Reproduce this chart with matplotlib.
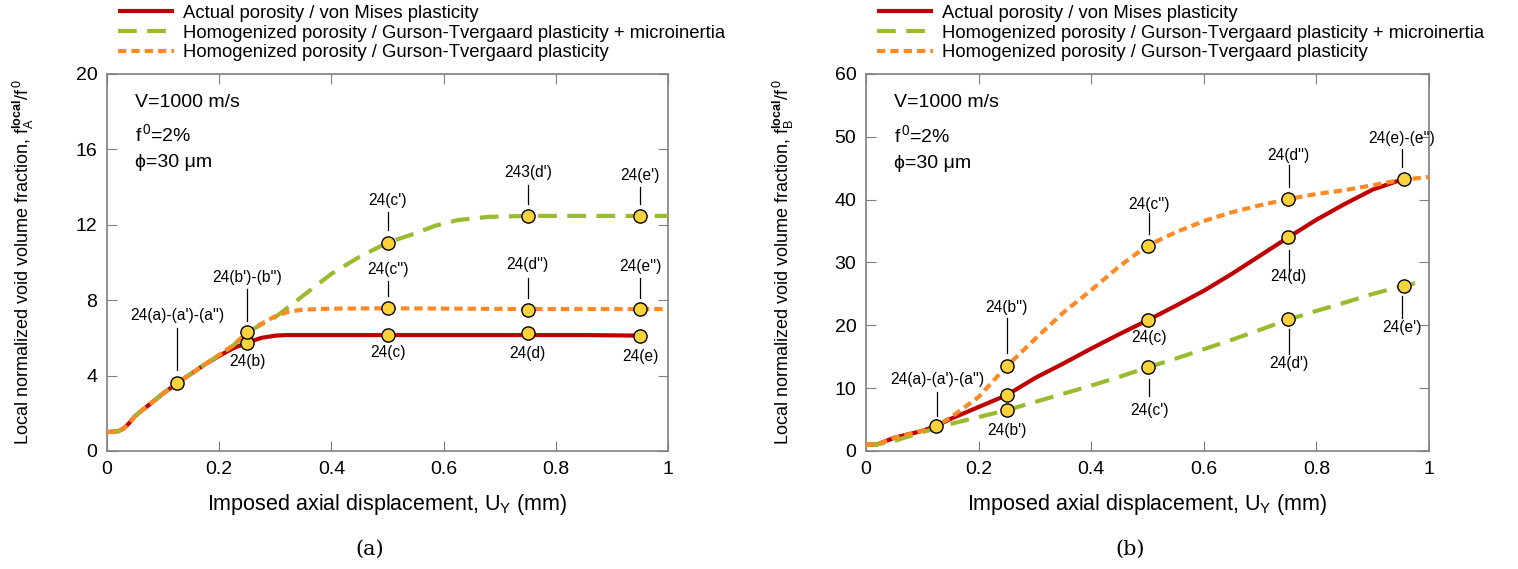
import matplotlib.pyplot as plt

# --- data ------------------------------------------------------------------
# panel (a): point A
xa_red = [0.0, 0.02, 0.03, 0.04, 0.05, 0.06, 0.075, 0.10, 0.125, 0.15, 0.175, 0.20, 0.225, 0.25,
          0.275, 0.30, 0.32, 0.40, 0.50, 0.60, 0.75, 0.85, 0.95]
ya_red = [1.0, 1.05, 1.2, 1.5, 1.85, 2.1, 2.45, 3.05, 3.6, 4.1, 4.6, 5.05, 5.45, 5.75,
          6.0, 6.12, 6.15, 6.15, 6.15, 6.15, 6.15, 6.15, 6.12]

xa_green = [0.0, 0.02, 0.03, 0.04, 0.05, 0.06, 0.075, 0.10, 0.125, 0.15, 0.175, 0.20, 0.225, 0.25,
            0.275, 0.30, 0.35, 0.40, 0.45, 0.50, 0.545, 0.585, 0.625, 0.68, 0.75, 0.85, 0.95, 1.0]
ya_green = [1.0, 1.05, 1.2, 1.5, 1.85, 2.1, 2.45, 3.05, 3.6, 4.1, 4.6, 5.1, 5.6, 6.3,
            6.7, 7.1, 8.25, 9.4, 10.3, 11.05, 11.5, 11.95, 12.25, 12.42, 12.47, 12.47, 12.47, 12.47]

xa_orange = [0.0, 0.02, 0.03, 0.04, 0.05, 0.06, 0.075, 0.10, 0.125, 0.15, 0.175, 0.20, 0.225, 0.25,
             0.275, 0.30, 0.325, 0.35, 0.40, 0.50, 0.75, 0.95, 1.0]
ya_orange = [1.0, 1.05, 1.2, 1.5, 1.85, 2.1, 2.45, 3.05, 3.6, 4.1, 4.6, 5.1, 5.6, 6.3,
             6.75, 7.15, 7.4, 7.5, 7.55, 7.57, 7.53, 7.53, 7.53]

# markers (a)
xa_pts = [0.125, 0.25, 0.25, 0.50, 0.50, 0.50, 0.75, 0.75, 0.75, 0.95, 0.95, 0.95]
ya_pts = [3.6, 5.75, 6.3, 6.15, 7.6, 11.05, 6.25, 7.5, 12.47, 6.1, 7.53, 12.47]

# panel (b): point B
xb_red = [0.0, 0.02, 0.05, 0.10, 0.125, 0.15, 0.20, 0.25, 0.30, 0.35, 0.40, 0.45,
          0.50, 0.55, 0.60, 0.65, 0.70, 0.75, 0.80, 0.85, 0.90, 0.955]
yb_red = [1.0, 1.05, 2.1, 3.2, 4.0, 5.1, 7.0, 8.9, 11.6, 13.9, 16.3, 18.6,
          20.8, 23.1, 25.5, 28.2, 31.1, 34.0, 36.8, 39.3, 41.6, 43.3]

xb_green = [0.0, 0.02, 0.05, 0.10, 0.125, 0.15, 0.20, 0.25, 0.30, 0.35, 0.40, 0.45,
            0.50, 0.55, 0.60, 0.65, 0.70, 0.75, 0.80, 0.85, 0.90, 0.955, 0.98]
yb_green = [1.0, 1.05, 1.6, 3.0, 3.6, 4.3, 5.4, 6.5, 7.8, 9.1, 10.4, 11.8,
            13.3, 14.7, 16.2, 17.7, 19.3, 20.9, 22.3, 23.6, 25.0, 26.3, 26.8]

xb_orange = [0.0, 0.02, 0.05, 0.10, 0.125, 0.15, 0.20, 0.25, 0.30, 0.35, 0.40, 0.45,
             0.50, 0.55, 0.60, 0.65, 0.70, 0.75, 0.80, 0.85, 0.90, 0.955, 1.0]
yb_orange = [1.0, 1.05, 2.1, 3.2, 4.0, 5.3, 8.6, 13.5, 17.8, 22.0, 25.6, 29.4,
             32.7, 34.8, 36.6, 38.0, 39.1, 40.1, 40.9, 41.5, 42.3, 43.2, 43.6]

xb_pts = [0.125, 0.25, 0.25, 0.25, 0.50, 0.50, 0.50, 0.75, 0.75, 0.75, 0.955, 0.955]
yb_pts = [4.0, 6.5, 8.9, 13.5, 13.3, 20.8, 32.7, 21.0, 34.0, 40.1, 26.3, 43.3]

legend_labels = ["Actual porosity / von Mises plasticity",
                 "Homogenized porosity / Gurson-Tvergaard plasticity + microinertia",
                 "Homogenized porosity / Gurson-Tvergaard plasticity"]

# annotations: (label, text x, text y, line start y, line end y)
notes_a = [("24(a)-(a')-(a'')", 0.125, 7.2, 6.55, 4.3),
           ("24(b')-(b'')", 0.25, 9.2, 8.6, 6.9),
           ("24(b)", 0.25, 4.75, None, None),
           ("24(c')", 0.50, 13.3, 12.7, 11.7),
           ("24(c'')", 0.50, 9.65, 9.0, 8.2),
           ("24(c)", 0.50, 5.2, None, None),
           ("243(d')", 0.75, 14.75, 14.1, 13.1),
           ("24(d'')", 0.75, 9.9, 9.2, 8.1),
           ("24(d)", 0.75, 5.15, None, None),
           ("24(e')", 0.95, 14.6, 14.0, 13.1),
           ("24(e'')", 0.95, 9.8, 9.2, 8.1),
           ("24(e)", 0.95, 5.0, None, None)]

notes_b = [("24(a)-(a')-(a'')", 0.126, 11.3, 9.4, 5.6),
           ("24(b'')", 0.25, 22.9, 21.2, 15.6),
           ("24(b')", 0.25, 3.3, None, None),
           ("24(c'')", 0.503, 39.3, 37.8, 34.6),
           ("24(c)", 0.503, 18.0, None, None),
           ("24(c')", 0.503, 6.5, 8.7, 11.5),
           ("24(d'')", 0.751, 47.1, 45.5, 42.0),
           ("24(d)", 0.751, 27.7, 28.6, 32.0),
           ("24(d')", 0.751, 14.0, 15.4, 19.4),
           ("24(e)-(e'')", 0.952, 49.8, 48.0, 45.2),
           ("24(e')", 0.952, 19.6, 21.2, 24.6)]

# --- style -------------------------------------------------------------------
sans = "Liberation Sans"
plt.rcParams["font.family"] = [sans, "DejaVu Sans"]
plt.rcParams["mathtext.fontset"] = "custom"
plt.rcParams["mathtext.rm"] = sans
plt.rcParams["mathtext.it"] = sans
plt.rcParams["mathtext.bf"] = sans + ":bold"

RED = "#c00000"
GREEN = "#9bbb2e"
ORANGE = "#ff8a24"
YELLOW = "#fdd33c"
GRAY = "#7f7f7f"


def draw_panel(ax, curves, xp, yp, notes, ymax, ystep, sub, txt_y, lab_x):
    (xr, yr), (xg, yg), (xo, yo) = curves
    l1, = ax.plot(xr, yr, color=RED, lw=3, solid_capstyle="butt", zorder=3)
    l2, = ax.plot(xg, yg, color=GREEN, lw=3, dashes=(4.5, 2.5), zorder=3)
    l3, = ax.plot(xo, yo, color=ORANGE, lw=3, dashes=(2.0, 1.2), zorder=3)
    ax.plot(xp, yp, "o", ms=9.5, mfc=YELLOW, mec="black", mew=1, zorder=5, ls="none")

    for lab, tx, ty, y0, y1 in notes:
        ax.text(tx, ty, lab, ha="center", va="center", fontsize=11.2)
        if y0 is not None:
            ax.plot([tx, tx], [y0, y1], color="black", lw=0.9, zorder=4)

    ax.set_xlim(0, 1)
    ax.set_ylim(0, ymax)
    ax.set_xticks([0, 0.2, 0.4, 0.6, 0.8, 1.0])
    ax.set_xticklabels(["0", "0.2", "0.4", "0.6", "0.8", "1"])
    ax.set_yticks(range(0, ymax + 1, ystep))
    ax.tick_params(direction="in", length=7, width=0.8, color=GRAY, labelsize=14,
                   top=True, right=True, pad=7)
    for s in ax.spines.values():
        s.set_color(GRAY)
        s.set_linewidth(1.2)

    ax.set_xlabel(r"Imposed axial displacement, U$_{\mathrm{Y}}$ (mm)", fontsize=15.5, labelpad=10)
    ax.set_ylabel(r"Local normalized void volume fraction, f$_{\mathrm{%s}}^{\mathbf{local}}$/f$^{\,0}$" % sub,
                  fontsize=13)
    ax.yaxis.set_label_coords(lab_x, 0.5)

    ax.text(0.05, txt_y[0], "V=1000 m/s", fontsize=14, va="center")
    ax.text(0.05, txt_y[1], r"f$^{\,0}$=2%", fontsize=14, va="center")
    ax.text(0.05, txt_y[2], "\u03d5=30 \u03bcm", fontsize=14, va="center")
    return [l1, l2, l3]


fig = plt.figure(figsize=(15.18, 5.69), dpi=100)
ax1 = fig.add_axes([0.0705, 0.2074, 0.3696, 0.6626])
ax2 = fig.add_axes([0.5705, 0.2074, 0.3709, 0.6626])

h = draw_panel(ax1, [(xa_red, ya_red), (xa_green, ya_green), (xa_orange, ya_orange)],
               xa_pts, ya_pts, notes_a, 20, 4, "A", (18.5, 16.8, 15.3), -0.127)
draw_panel(ax2, [(xb_red, yb_red), (xb_green, yb_green), (xb_orange, yb_orange)],
           xb_pts, yb_pts, notes_b, 60, 10, "B", (55.5, 50.3, 45.8), -0.125)

for ax, x0 in ((ax1, 0.0775), (ax2, 0.5775)):
    ax.legend(h, legend_labels, loc="upper left", bbox_to_anchor=(x0, 0.992),
              bbox_transform=fig.transFigure, frameon=False, fontsize=13.3,
              handlelength=3.05, handletextpad=0.47, labelspacing=0.16,
              borderpad=0.0, borderaxespad=0.0)

fig.text(0.2437, 0.035, "(a)", ha="center", va="center", fontsize=15, family="DejaVu Serif")
fig.text(0.7444, 0.035, "(b)", ha="center", va="center", fontsize=15, family="DejaVu Serif")

fig.savefig("out.png", dpi=100)
